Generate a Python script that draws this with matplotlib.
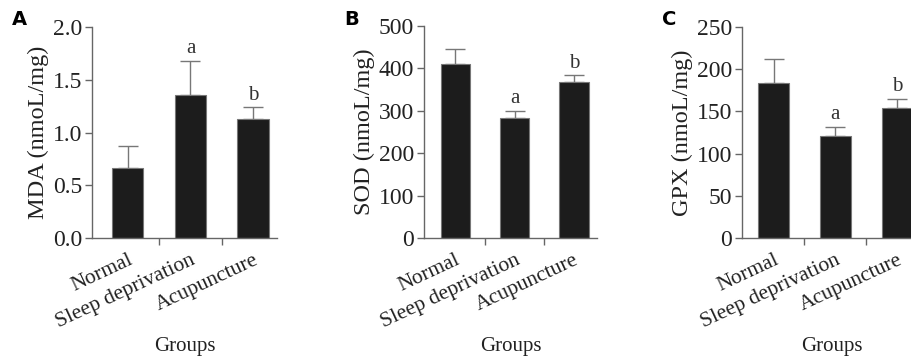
import matplotlib.pyplot as plt
import numpy as np

plt.rcParams["font.family"] = ["Liberation Serif", "DejaVu Serif"]

groups = ["Normal", "Sleep deprivation", "Acupuncture"]

mda_mean = [0.66, 1.36, 1.13]
mda_err = [0.21, 0.32, 0.11]
sod_mean = [410, 284, 369]
sod_err = [35, 16, 15]
gpx_mean = [184, 121, 154]
gpx_err = [28, 11, 11]

marks = ["", "a", "b"]

panels = [
    ("A", mda_mean, mda_err, "MDA (nmoL/mg)", (0, 2.0), np.arange(0, 2.01, 0.5), "{:.1f}"),
    ("B", sod_mean, sod_err, "SOD (nmoL/mg)", (0, 500), np.arange(0, 501, 100), "{:.0f}"),
    ("C", gpx_mean, gpx_err, "GPX (nmoL/mg)", (0, 250), np.arange(0, 251, 50), "{:.0f}"),
]

W, H = 912, 356
# axes boxes in pixels: left, bottom(y from top), width, height
boxes = [(92, 238, 185, 211), (424, 238, 173, 212), (742, 238, 180, 211)]
xlims = [(-0.57, 2.38), (-0.53, 2.39), (-0.51, 2.4)]

fig = plt.figure(figsize=(W / 100, H / 100), dpi=100)

for (letter, mean, err, ylabel, ylim, yticks, fmt), box, xl in zip(panels, boxes, xlims):
    l, b, w, h = box
    ax = fig.add_axes([l / W, (H - b) / H, w / W, h / H])
    x = np.arange(len(groups))
    ax.bar(x, mean, width=0.5, color="#1c1c1c", edgecolor="#777777", linewidth=0.8, zorder=2)
    ax.errorbar(x, mean, yerr=[np.zeros(len(mean)), err], fmt="none",
                ecolor="#777777", elinewidth=1.0, capsize=7, capthick=1.0, zorder=1)
    span = ylim[1] - ylim[0]
    for xi, m, e, t in zip(x, mean, err, marks):
        if t:
            ax.text(xi, m + e + span * 0.012, t, ha="center", va="bottom",
                    fontsize=15, color="#333333")
    ax.set_xlim(*xl)
    ax.set_ylim(*ylim)
    ax.set_yticks(yticks)
    ax.set_yticklabels([fmt.format(v) for v in yticks], fontsize=17)
    ax.set_xticks(x)
    ax.set_xticklabels(groups, rotation=25, ha="right", rotation_mode="anchor", fontsize=15.5)
    ax.set_xticks([0.5, 1.5], minor=True)
    ax.tick_params(axis="x", which="major", length=0, pad=9)
    ax.tick_params(axis="x", which="minor", length=5, color="#666666", width=1)
    ax.tick_params(axis="y", length=5, color="#666666", width=1, pad=2)
    ax.tick_params(labelcolor="#222222")
    for s in ["top", "right"]:
        ax.spines[s].set_visible(False)
    for s in ["left", "bottom"]:
        ax.spines[s].set_color("#666666")
        ax.spines[s].set_linewidth(1)
    ax.set_ylabel(ylabel, fontsize=17.5, color="#222222", labelpad=3)
    ax.set_xlabel("Groups", fontsize=15, color="#222222", labelpad=4)
    fig.text((l - 80) / W, (H - 10) / H, letter, fontsize=14, fontweight="bold",
             family="DejaVu Sans", va="top", ha="left")

fig.savefig("out.png", dpi=100)
